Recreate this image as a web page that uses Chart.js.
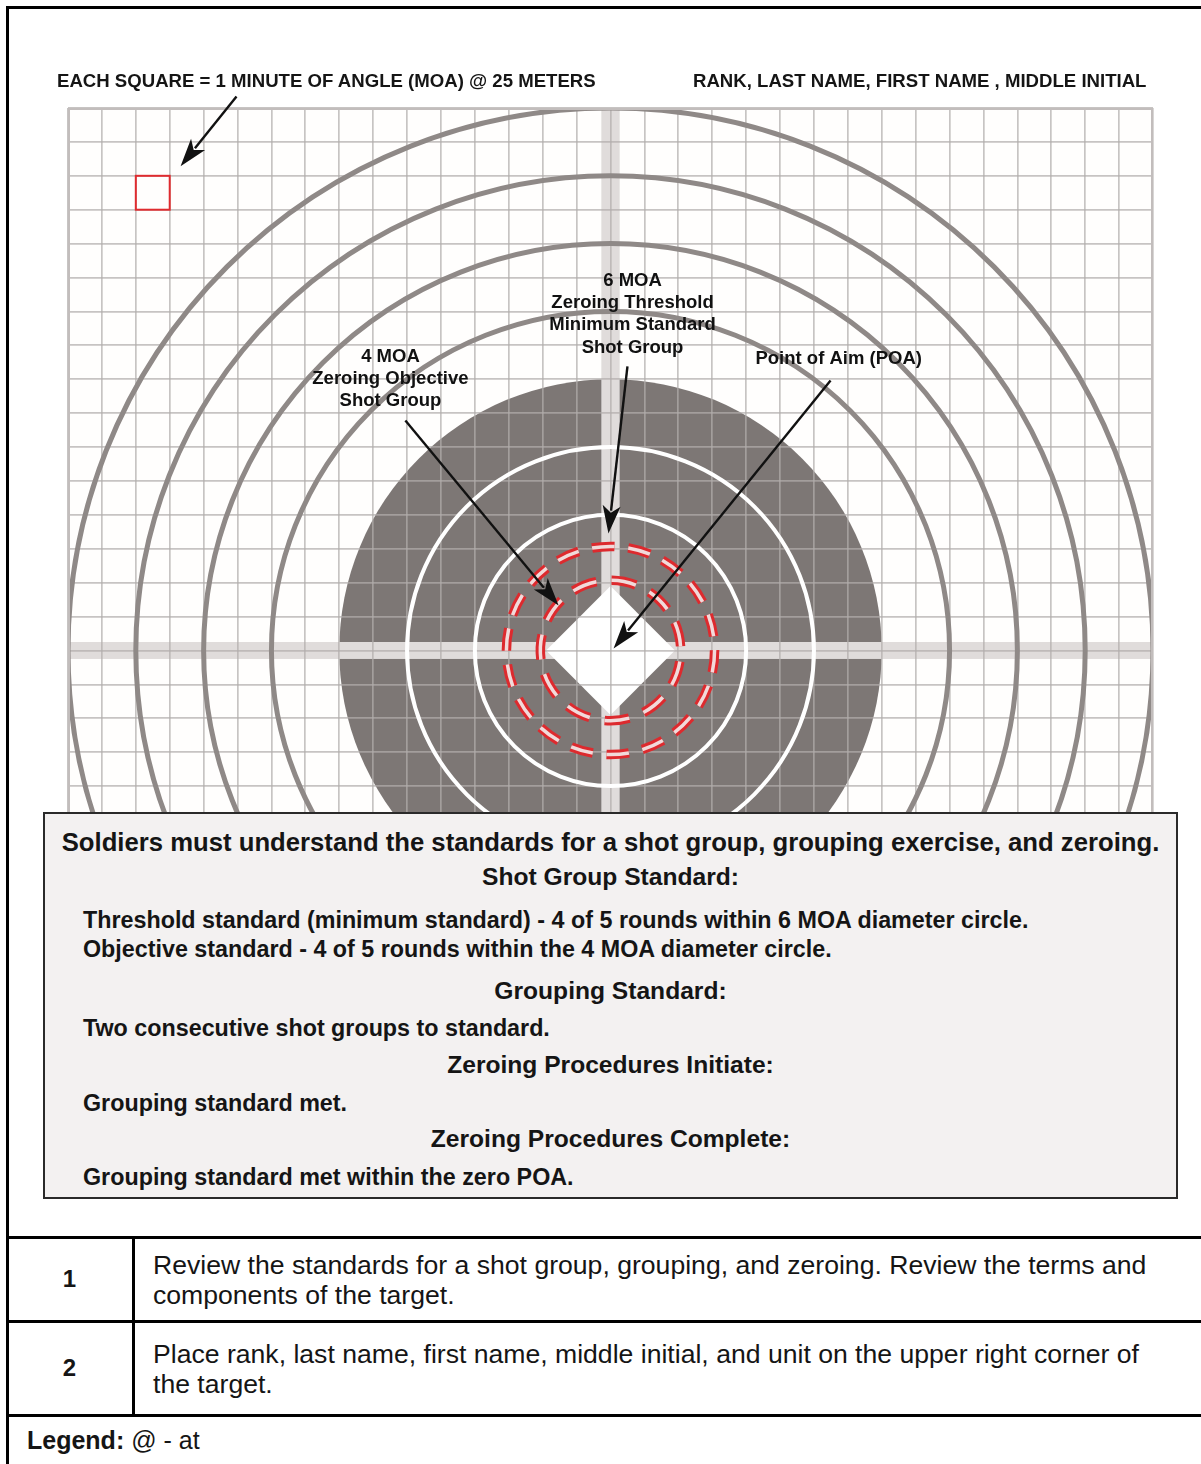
<!DOCTYPE html>
<html>
<head>
<meta charset="utf-8">
<script src="https://cdn.jsdelivr.net/npm/chart.js@4.4.1/dist/chart.umd.min.js"></script>
<style>
  body { margin: 0; background: #fff; font-family: "Liberation Sans", Arial, sans-serif; color: #151515; }
  #page { position: relative; width: 1201px; height: 1464px; overflow: hidden; background: #fff; }
  #frame { position: absolute; left: 6px; top: 6px; width: 1400px; height: 1600px; box-sizing: border-box;
           border-left: 3px solid #000; border-top: 3px solid #000; }
  #target { position: absolute; left: 0; top: 0; width: 1201px; height: 830px; }
  .t { position: absolute; white-space: nowrap; }
  .hdr { font-weight: bold; font-size: 18.6px; line-height: 22px; top: 70px; }
  #box { position: absolute; left: 43px; top: 812px; width: 1135px; height: 387px; box-sizing: border-box;
         border: 2px solid #2a2a2a; background: #f3f1f1; }
  #box .t { line-height: 30px; font-weight: bold; }
  #box .c { left: 0; width: 100%; text-align: center; }
  #box .title { font-size: 25.7px; }
  #box .head { font-size: 24.6px; }
  #box .body { font-size: 23.3px; left: 38px; }
  .rule { position: absolute; background: #000; }
  .num { font-weight: bold; font-size: 24px; line-height: 30px; width: 127px; left: 6px; text-align: center; }
  .step { font-size: 26.6px; line-height: 30px; left: 153px; }
</style>
</head>
<body>
<div id="page">
  <div id="target"><canvas id="chart"></canvas></div>

  <div class="t hdr" style="left:57px;">EACH SQUARE = 1 MINUTE OF ANGLE (MOA) @ 25 METERS</div>
  <div class="t hdr" style="left:693px;">RANK, LAST NAME, FIRST NAME , MIDDLE INITIAL</div>

  <div id="box">
    <div class="t c title" style="top:13px;">Soldiers must understand the standards for a shot group, grouping exercise, and zeroing.</div>
    <div class="t c head" style="top:48px;">Shot Group Standard:</div>
    <div class="t body" style="top:91px;">Threshold standard (minimum standard) - 4 of 5 rounds within 6 MOA diameter circle.</div>
    <div class="t body" style="top:120px;">Objective standard - 4 of 5 rounds within the 4 MOA diameter circle.</div>
    <div class="t c head" style="top:162px;">Grouping Standard:</div>
    <div class="t body" style="top:199px;">Two consecutive shot groups to standard.</div>
    <div class="t c head" style="top:236px;">Zeroing Procedures Initiate:</div>
    <div class="t body" style="top:274px;">Grouping standard met.</div>
    <div class="t c head" style="top:310px;">Zeroing Procedures Complete:</div>
    <div class="t body" style="top:348px;">Grouping standard met within the zero POA.</div>
  </div>

  <!-- step table -->
  <div class="rule" style="left:6px; top:1236px; width:1195px; height:3px;"></div>
  <div class="rule" style="left:6px; top:1320px; width:1195px; height:3px;"></div>
  <div class="rule" style="left:6px; top:1414px; width:1195px; height:3px;"></div>
  <div class="rule" style="left:132px; top:1236px; width:3px; height:180px;"></div>

  <div class="t num" style="top:1264px;">1</div>
  <div class="t step" style="top:1250px;">Review the standards for a shot group, grouping, and zeroing. Review the terms and</div>
  <div class="t step" style="top:1280px;">components of the target.</div>

  <div class="t num" style="top:1353px;">2</div>
  <div class="t step" style="top:1339px;">Place rank, last name, first name, middle initial, and unit on the upper right corner of</div>
  <div class="t step" style="top:1369px;">the target.</div>

  <div class="t" style="left:27px; top:1425px; font-size:25px; line-height:30px;"><b>Legend:</b> @ - at</div>

  <div id="frame"></div>
</div>

<script>
// target geometry, all in MOA (1 grid square = 1 MOA @ 25 m)
const gridX = [-16, 16];
const gridY = [-5, 16];
const scoringRings = [10, 12, 14, 16];   // grey outline rings (radius)
const whiteRings = [4, 6];               // white rings on the dark disc (radius)
const discRadius = 8;                    // dark filled disc
const diamondHalf = 1.9;                 // white aiming diamond half-diagonal
const groupDiameters = [4, 6];           // red dashed shot-group circles (diameter)
const exampleSquare = [-14, 13];         // red 1 MOA example square (left, bottom)
const poa = [{ x: 0, y: 0 }];

const calloutText = [
  ['6 MOA', 'Zeroing Threshold', 'Minimum Standard', 'Shot Group'],
  ['4 MOA', 'Zeroing Objective', 'Shot Group'],
  ['Point of Aim (POA)'],
  []
];

// where each callout sits: label centre, arrow tail, arrow tip (MOA)
const calloutGeom = [
  { lx: 0.65, ly: 10.91, from: [0.5, 8.38], to: [-0.06, 3.45] },
  { lx: -6.49, ly: 8.67, from: [-6.05, 6.78], to: [-1.53, 1.33] },
  { lx: 6.73, ly: 8.61, from: [6.49, 7.96], to: [0.09, 0.06] },
  { from: [-11.03, 16.34], to: [-12.68, 14.28] }
];

function arrow(ctx, x1, y1, x2, y2) {
  const a = Math.atan2(y2 - y1, x2 - x1);
  const L = 28, W = 9;
  const bx = x2 - L * Math.cos(a), by = y2 - L * Math.sin(a);
  ctx.beginPath();
  ctx.moveTo(x1, y1);
  ctx.lineTo(bx + 5 * Math.cos(a), by + 5 * Math.sin(a));
  ctx.lineWidth = 2.4;
  ctx.stroke();
  ctx.beginPath();
  ctx.moveTo(x2, y2);
  ctx.lineTo(bx + W * Math.sin(a), by - W * Math.cos(a));
  ctx.lineTo(bx + 7 * Math.cos(a), by + 7 * Math.sin(a));
  ctx.lineTo(bx - W * Math.sin(a), by + W * Math.cos(a));
  ctx.closePath();
  ctx.fill();
}

function dashedRing(ctx, cx, cy, r, n, startDeg) {
  const half = Math.PI * 0.62 / n;
  for (let i = 0; i < n; i++) {
    const a = -(startDeg * Math.PI / 180 + i * 2 * Math.PI / n);
    ctx.beginPath();
    ctx.arc(cx, cy, r, a - half, a + half);
    ctx.stroke();
  }
}

const targetPlugin = {
  id: 'target',
  beforeDraw(chart) {
    const { ctx, chartArea: ca, scales: { x, y } } = chart;
    const u = x.getPixelForValue(1) - x.getPixelForValue(0);
    const cx = x.getPixelForValue(0), cy = y.getPixelForValue(0);
    ctx.save();
    ctx.beginPath();
    ctx.rect(ca.left, ca.top, ca.right - ca.left, ca.bottom - ca.top);
    ctx.clip();
    ctx.fillStyle = '#fffefd';
    ctx.fillRect(ca.left, ca.top, ca.right - ca.left, ca.bottom - ca.top);
    // dark disc
    ctx.fillStyle = '#7d7775';
    ctx.beginPath();
    ctx.arc(cx, cy, discRadius * u, 0, Math.PI * 2);
    ctx.fill();
    // cross-hair bands
    ctx.fillStyle = '#e0dcdb';
    ctx.fillRect(cx - 0.27 * u, ca.top, 0.54 * u, ca.bottom - ca.top);
    ctx.fillRect(ca.left, cy - 0.25 * u, ca.right - ca.left, 0.5 * u);
    // white diamond
    ctx.fillStyle = '#ffffff';
    ctx.beginPath();
    ctx.moveTo(cx, cy - diamondHalf * u);
    ctx.lineTo(cx + diamondHalf * u, cy);
    ctx.lineTo(cx, cy + diamondHalf * u);
    ctx.lineTo(cx - diamondHalf * u, cy);
    ctx.closePath();
    ctx.fill();
    ctx.restore();
  },
  afterDatasetsDraw(chart) {
    const { ctx, chartArea: ca, scales: { x, y } } = chart;
    const u = x.getPixelForValue(1) - x.getPixelForValue(0);
    const cx = x.getPixelForValue(0), cy = y.getPixelForValue(0);
    ctx.save();
    ctx.beginPath();
    ctx.rect(ca.left, ca.top, ca.right - ca.left, ca.bottom - ca.top);
    ctx.clip();
    ctx.strokeStyle = '#8f8987';
    ctx.lineWidth = 5;
    scoringRings.forEach(r => {
      ctx.beginPath();
      ctx.arc(cx, cy, r * u, 0, Math.PI * 2);
      ctx.stroke();
    });
    ctx.strokeStyle = '#ffffff';
    ctx.lineWidth = 4;
    whiteRings.forEach(r => {
      ctx.beginPath();
      ctx.arc(cx, cy, r * u, 0, Math.PI * 2);
      ctx.stroke();
    });
    // dashed shot-group circles: red edge with a pale core
    const dashCount = [11, 18], dashStart = [79, 94];
    groupDiameters.forEach((d, i) => {
      const r = (d / 2 + 0.07) * u;
      ctx.strokeStyle = '#dd2a2e';
      ctx.lineWidth = 9.5;
      dashedRing(ctx, cx, cy, r, dashCount[i], dashStart[i]);
      ctx.strokeStyle = '#f1dada';
      ctx.lineWidth = 3.5;
      dashedRing(ctx, cx, cy, r, dashCount[i], dashStart[i]);
    });
    // red example square
    ctx.strokeStyle = '#df2b2f';
    ctx.lineWidth = 2;
    const sx = x.getPixelForValue(exampleSquare[0]), sy = y.getPixelForValue(exampleSquare[1] + 1);
    ctx.strokeRect(sx, sy, u, u);
    // grid frame
    ctx.strokeStyle = '#c2bdbc';
    ctx.lineWidth = 4;
    ctx.strokeRect(ca.left, ca.top, ca.right - ca.left, ca.bottom - ca.top);
    ctx.restore();

    // callouts
    ctx.save();
    ctx.fillStyle = '#111';
    ctx.strokeStyle = '#111';
    ctx.font = 'bold 18.5px "Liberation Sans", Arial, sans-serif';
    ctx.textAlign = 'center';
    ctx.textBaseline = 'middle';
    calloutGeom.forEach((g, i) => {
      calloutText[i].forEach((line, k) => {
        ctx.fillText(line, x.getPixelForValue(g.lx), y.getPixelForValue(g.ly) + k * 22.3);
      });
      arrow(ctx, x.getPixelForValue(g.from[0]), y.getPixelForValue(g.from[1]),
                 x.getPixelForValue(g.to[0]), y.getPixelForValue(g.to[1]));
    });
    ctx.restore();
  }
};

const gridStyle = {
  color: 'rgba(178,173,172,0.72)',
  lineWidth: 1.7,
  drawTicks: false
};

new Chart(document.getElementById('chart'), {
  type: 'scatter',
  data: {
    datasets: [{
      label: 'Point of Aim (POA)',
      data: poa,
      pointRadius: 0,
      showLine: false
    }]
  },
  options: {
    responsive: true,
    maintainAspectRatio: false,
    animation: false,
    events: [],
    layout: { padding: { left: 68, top: 108, right: 48, bottom: 10 } },
    plugins: { legend: { display: false }, tooltip: { enabled: false } },
    scales: {
      x: {
        type: 'linear', min: gridX[0], max: gridX[1],
        ticks: { display: false, stepSize: 1, maxTicksLimit: 100 },
        grid: gridStyle,
        border: { display: false }
      },
      y: {
        type: 'linear', min: gridY[0], max: gridY[1],
        ticks: { display: false, stepSize: 1, maxTicksLimit: 100 },
        grid: gridStyle,
        border: { display: false }
      }
    }
  },
  plugins: [targetPlugin]
});
</script>
</body>
</html>
